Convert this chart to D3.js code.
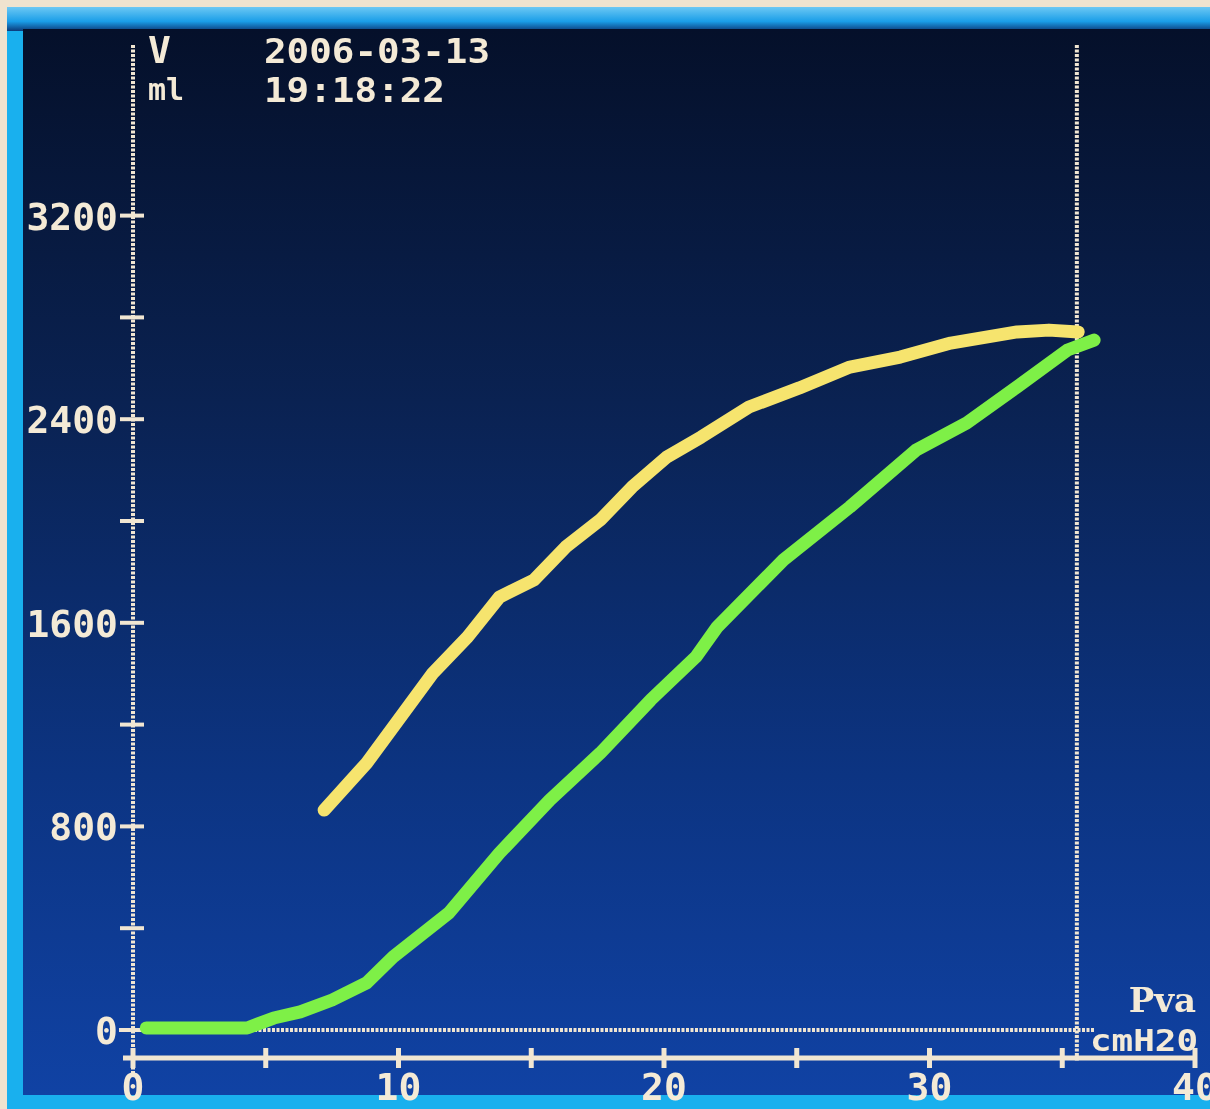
<!DOCTYPE html>
<html>
<head>
<meta charset="utf-8">
<script src="https://cdn.jsdelivr.net/npm/d3@7"></script>
<style>
  body { margin: 0; background: #efe3cf; }
  svg { display: block; }
  .lbl { font-family: "DejaVu Sans Mono", monospace; font-weight: bold; fill: #f4ead6; }
</style>
</head>
<body>
<div id="chart-area"></div>
<script>
// pressure-volume loop

// inflation limb (green)
const inflP = [0.5, 4.3, 5.3, 6.3, 7.5, 8.8, 9.8, 11.9, 13.8, 15.7, 17.6, 19.5, 21.2, 22.0, 24.5, 27.0, 29.5, 31.4, 33.3, 35.2, 36.2];
const inflV = [8, 8, 47, 71, 118, 185, 287, 460, 695, 904, 1088, 1297, 1466, 1583, 1847, 2055, 2279, 2385, 2527, 2672, 2711];

// deflation limb (yellow)
const deflP = [7.2, 8.8, 11.3, 12.6, 13.8, 15.1, 16.3, 17.6, 18.8, 20.1, 21.4, 23.2, 25.1, 27.0, 28.9, 30.8, 33.3, 34.5, 35.6];
const deflV = [864, 1049, 1403, 1544, 1701, 1768, 1898, 2004, 2134, 2251, 2330, 2448, 2523, 2605, 2644, 2699, 2743, 2750, 2743];

// axes
const yTicks = [0, 400, 800, 1200, 1600, 2000, 2400, 2800, 3200];
const yLabels = [0, 800, 1600, 2400, 3200];
const xTicks = [0, 5, 10, 15, 20, 25, 30, 35, 40];
const xLabels = [0, 10, 20, 30, 40];
const cursorP = 35.55;

const canvas = { width: 1210, height: 1109 };
const cream = "#f1e6d2";

const svg = d3.select("#chart-area").append("svg").attr("width", canvas.width).attr("height", canvas.height);
const defs = svg.append("defs");

const grad = defs.append("linearGradient").attr("id", "screen").attr("x1", 0).attr("y1", 0).attr("x2", 0).attr("y2", 1);
grad.append("stop").attr("offset", "0%").attr("stop-color", "#05102a");
grad.append("stop").attr("offset", "35%").attr("stop-color", "#0a2252");
grad.append("stop").attr("offset", "70%").attr("stop-color", "#0c3482");
grad.append("stop").attr("offset", "100%").attr("stop-color", "#1042a4");

const bez = defs.append("linearGradient").attr("id", "bezel").attr("x1", 0).attr("y1", 0).attr("x2", 0).attr("y2", 1);
bez.append("stop").attr("offset", "0%").attr("stop-color", "#6cc8f4");
bez.append("stop").attr("offset", "60%").attr("stop-color", "#1a9ee8");
bez.append("stop").attr("offset", "100%").attr("stop-color", "#0c3a7a");

const soft = defs.append("filter").attr("id", "soft");
soft.append("feGaussianBlur").attr("stdDeviation", 0.7);

// frame and screen
svg.append("rect").attr("x", 0).attr("y", 0).attr("width", canvas.width).attr("height", canvas.height).attr("fill", "#efe3cf");
svg.append("rect").attr("x", 7).attr("y", 7).attr("width", canvas.width - 7).attr("height", canvas.height - 7).attr("fill", "#19b0ee");
svg.append("rect").attr("x", 7).attr("y", 7).attr("width", canvas.width - 7).attr("height", 24).attr("fill", "url(#bezel)");
svg.append("rect").attr("x", 23).attr("y", 29).attr("width", canvas.width - 23).attr("height", 1095 - 29).attr("fill", "url(#screen)");

// scales
const x = d3.scaleLinear().domain([0, 40]).range([133, 1195]);
const y = d3.scaleLinear().domain([0, 4000]).range([1030, 12]);

const g = svg.append("g").attr("filter", "url(#soft)");

// dotted y axis, zero line and pressure cursor
g.append("line").attr("x1", x(0)).attr("x2", x(0)).attr("y1", y(3870)).attr("y2", 1076)
  .attr("stroke", cream).attr("stroke-width", 4).attr("stroke-dasharray", "3,1.5");
g.append("line").attr("x1", x(0) - 14).attr("x2", x(36.2)).attr("y1", y(0)).attr("y2", y(0))
  .attr("stroke", cream).attr("stroke-width", 4).attr("stroke-dasharray", "3,1.5");
g.append("line").attr("x1", x(cursorP)).attr("x2", x(cursorP)).attr("y1", y(3870)).attr("y2", 1062)
  .attr("stroke", cream).attr("stroke-width", 4).attr("stroke-dasharray", "3,1.5");

// solid x axis
const xAxisY = 1058;
g.append("line").attr("x1", x(0) - 10).attr("x2", x(40)).attr("y1", xAxisY).attr("y2", xAxisY)
  .attr("stroke", cream).attr("stroke-width", 5);
g.selectAll(".xtick").data(xTicks).enter().append("line").attr("class", "xtick")
  .attr("x1", d => x(d)).attr("x2", d => x(d)).attr("y1", xAxisY - 10).attr("y2", xAxisY + 10)
  .attr("stroke", cream).attr("stroke-width", 5);
g.selectAll(".xlab").data(xLabels).enter().append("text").attr("class", "lbl xlab")
  .attr("x", d => x(d)).attr("y", 1100).attr("text-anchor", "middle").attr("font-size", 38)
  .text(d => d);

// y ticks
g.selectAll(".ytick").data(yTicks).enter().append("line").attr("class", "ytick")
  .attr("x1", x(0) - 13).attr("x2", x(0) + 11).attr("y1", d => y(d)).attr("y2", d => y(d))
  .attr("stroke", cream).attr("stroke-width", 4);
g.selectAll(".ylab").data(yLabels).enter().append("text").attr("class", "lbl ylab")
  .attr("x", 118).attr("y", d => y(d) + 14).attr("text-anchor", "end").attr("font-size", 38)
  .text(d => d);

// header text
g.append("text").attr("class", "lbl").attr("x", 148).attr("y", 63).attr("font-size", 38).text("V");
g.append("text").attr("class", "lbl").attr("x", 148).attr("y", 100).attr("font-size", 30).text("ml");
g.append("text").attr("class", "lbl").attr("x", 264).attr("y", 63).attr("font-size", 34)
  .attr("textLength", 226).attr("lengthAdjust", "spacingAndGlyphs").text("2006-03-13");
g.append("text").attr("class", "lbl").attr("x", 264).attr("y", 102).attr("font-size", 34)
  .attr("textLength", 181).attr("lengthAdjust", "spacingAndGlyphs").text("19:18:22");

// unit labels
g.append("text").attr("class", "lbl").attr("x", 1196).attr("y", 1012).attr("text-anchor", "end")
  .attr("font-size", 34).style("font-family", "'DejaVu Serif', serif").text("Pva");
g.append("text").attr("class", "lbl").attr("x", 1198).attr("y", 1051).attr("text-anchor", "end")
  .attr("font-size", 30).attr("textLength", 108).attr("lengthAdjust", "spacingAndGlyphs").text("cmH20");

// curves
const line = d3.line().x(d => x(d[0])).y(d => y(d[1])).curve(d3.curveLinear);
const infl = inflP.map((p, i) => [p, inflV[i]]);
const defl = deflP.map((p, i) => [p, deflV[i]]);

g.append("path").datum(defl).attr("d", line).attr("fill", "none")
  .attr("stroke", "#f6e46e").attr("stroke-width", 13).attr("stroke-linecap", "round").attr("stroke-linejoin", "round");
g.append("path").datum(infl).attr("d", line).attr("fill", "none")
  .attr("stroke", "#7ef046").attr("stroke-width", 13).attr("stroke-linecap", "round").attr("stroke-linejoin", "round");
</script>
</body>
</html>
